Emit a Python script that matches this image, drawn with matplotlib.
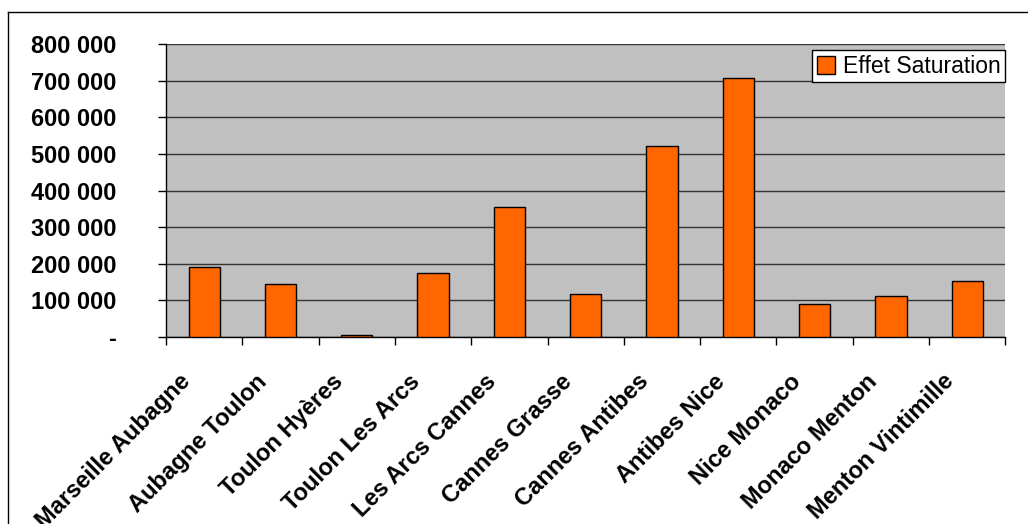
import matplotlib
matplotlib.use("Agg")
import matplotlib.pyplot as plt
from matplotlib.lines import Line2D
from matplotlib.transforms import ScaledTranslation
import numpy as np

# data
troncons = ['Marseille Aubagne', 'Aubagne Toulon', 'Toulon Hyères', 'Toulon Les Arcs',
            'Les Arcs Cannes', 'Cannes Grasse', 'Cannes Antibes', 'Antibes Nice',
            'Nice Monaco', 'Monaco Menton', 'Menton Vintimille']
effet_saturation = [191500, 144000, 4600, 174000, 356500, 118500, 522000, 708000,
                    89000, 112000, 152000]
y_ticks = [0, 100000, 200000, 300000, 400000, 500000, 600000, 700000, 800000]
y_labels = ['-', '100 000', '200 000', '300 000', '400 000', '500 000', '600 000',
            '700 000', '800 000']

plt.rcParams['font.family'] = ['Liberation Sans', 'DejaVu Sans']

fig = plt.figure(figsize=(10.28, 5.24), dpi=100)
ax = fig.add_axes([0.1615, 0.3569, 0.8165, 0.5586])
ax.set_facecolor('#C0C0C0')

x = np.arange(len(troncons))
ax.bar(x, effet_saturation, width=0.41, color='#FF6600', edgecolor='black',
       linewidth=1, zorder=3, label='Effet Saturation')

ax.set_xlim(-0.5, len(troncons) - 0.5)
ax.set_ylim(0, 800000)
ax.set_yticks(y_ticks)
ax.set_yticklabels(y_labels, fontsize=17, fontweight='bold')
ax.yaxis.grid(True, color='#333333', linewidth=1)
ax.set_axisbelow(True)

# category labels, rotated, drawn as text so they can be nudged like Excel does
ax.set_xticks(x)
ax.set_xticklabels([])
ax.tick_params(axis='x', which='major', length=0)
shift = ScaledTranslation(-17 / 100, -41 / 100, fig.dpi_scale_trans)
for xi, name in zip(x, troncons):
    ax.text(xi, 0, name, transform=ax.get_xaxis_transform() + shift,
            rotation=45, ha='right', va='center', rotation_mode='anchor',
            fontsize=17, fontweight='bold', clip_on=False)

ax.set_xticks(np.arange(len(troncons) + 1) - 0.5, minor=True)
ax.tick_params(axis='x', which='minor', length=6, width=1, color='black')
ax.tick_params(axis='y', length=6, width=1, pad=30)

for side in ['top', 'right']:
    ax.spines[side].set_visible(False)
ax.spines['left'].set_linewidth(1)
ax.spines['bottom'].set_linewidth(1)

leg = ax.legend(loc='upper right', bbox_to_anchor=(1.0, 0.98), fontsize=16.5,
                frameon=True, fancybox=False, shadow=False, borderpad=0.2,
                handlelength=0.8, handleheight=0.8, handletextpad=0.35,
                borderaxespad=0)
leg.get_frame().set_edgecolor('black')
leg.get_frame().set_linewidth(1)
leg.get_frame().set_facecolor('white')
leg.get_frame().set_alpha(1)

# outer chart border (left and top visible)
fig.add_artist(Line2D([8 / 1028, 8 / 1028], [0, 1 - 12 / 524], color='black',
                      linewidth=1, transform=fig.transFigure))
fig.add_artist(Line2D([8 / 1028, 1], [1 - 12 / 524, 1 - 12 / 524], color='black',
                      linewidth=1, transform=fig.transFigure))

fig.savefig('out.png', dpi=100)
